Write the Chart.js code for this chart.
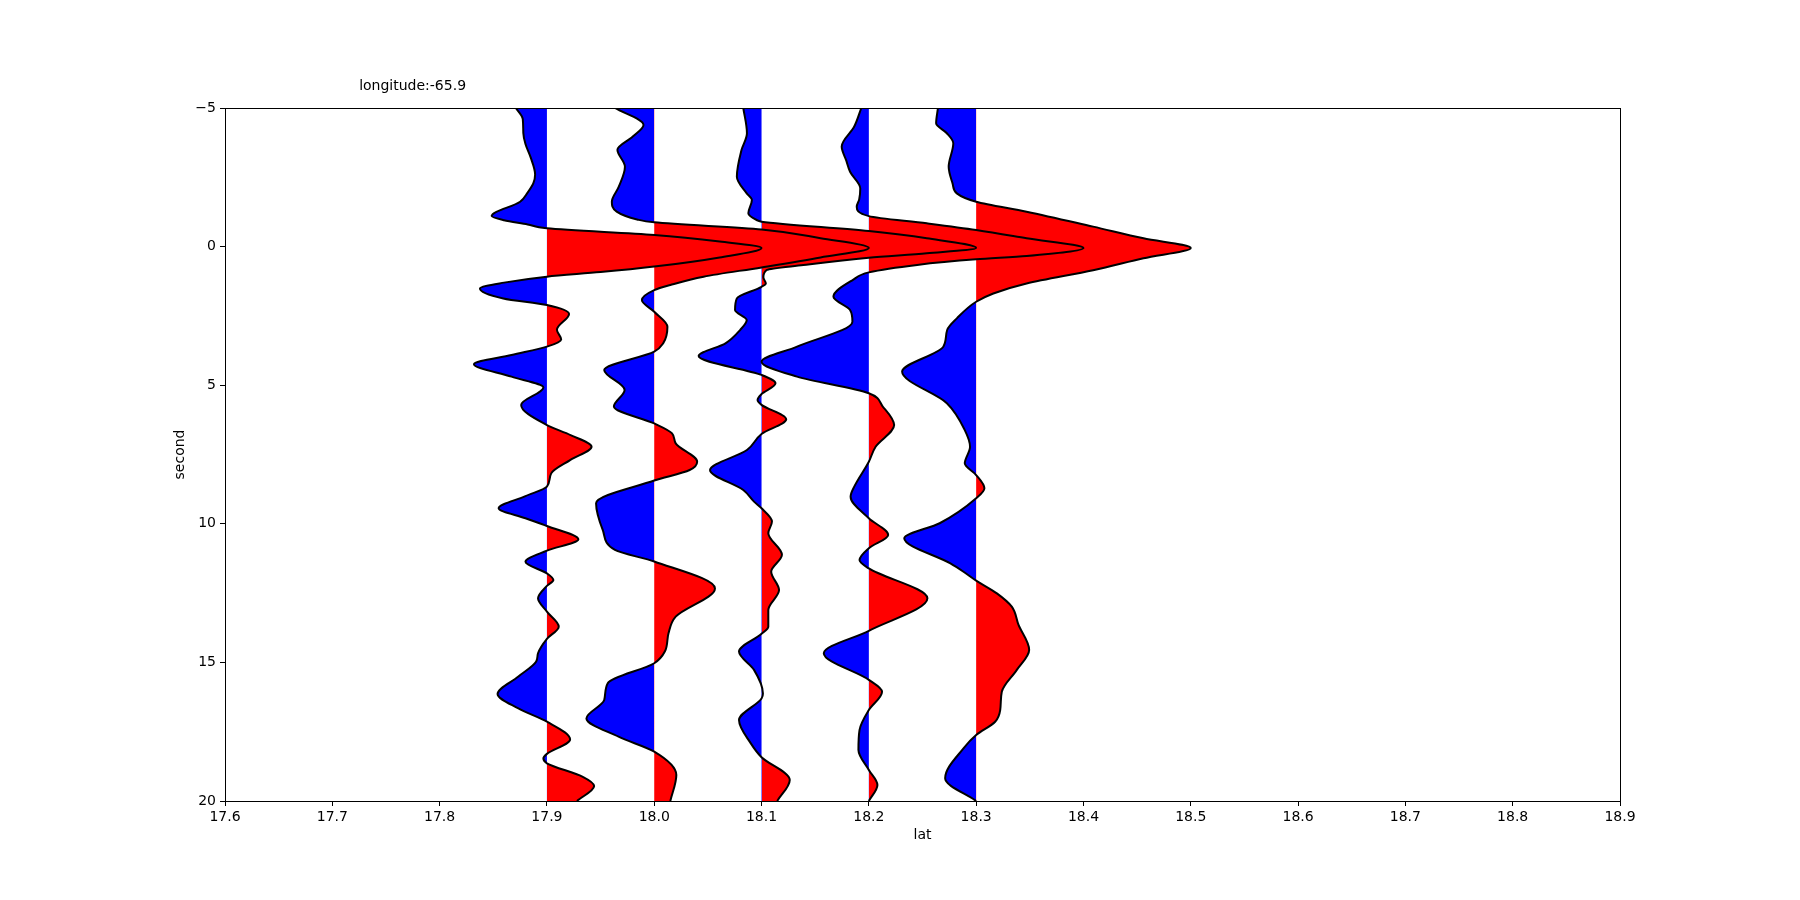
<!DOCTYPE html>
<html>
<head>
<meta charset="utf-8">
<script src="https://cdn.jsdelivr.net/npm/chart.js@4"></script>
<style>
  html, body { margin: 0; padding: 0; background: #fff; }
  #wrap { width: 1800px; height: 900px; }
</style>
</head>
<body>
<div id="wrap"><canvas id="myChart" width="1800" height="900"></canvas></div>
<script>
// station latitudes (trace baselines)
const lats = [17.9, 18.0, 18.1, 18.2, 18.3];
const xTicks = [17.6, 17.7, 17.8, 17.9, 18.0, 18.1, 18.2, 18.3, 18.4, 18.5, 18.6, 18.7, 18.8, 18.9];
const yTicks = [-5, 0, 5, 10, 15, 20];

// [second, amplitude in degrees]
const trace179 = [
    [-5, -0.029], [-4.6, -0.0225], [-4.1, -0.022], [-3.7, -0.020], [-3.2, -0.015], [-2.6, -0.011],
    [-2.28, -0.0127], [-1.95, -0.018], [-1.62, -0.025], [-1.1, -0.0515], [-0.95, -0.04], [-0.8, -0.018],
    [-0.66, 0], [-0.42, 0.10], [-0.18, 0.161], [0.05, 0.2], [0.39, 0.161], [0.72, 0.10], [0.92, 0.05],
    [1.085, 0], [1.3, -0.04], [1.51, -0.0624], [1.87, -0.0407], [2.11, 0], [2.43, 0.0206], [3.0, 0.0093],
    [3.35, 0.0133], [3.61, 0], [3.91, -0.033], [4.24, -0.068], [4.69, -0.033], [5.08, -0.0033],
    [5.71, -0.024], [6.44, 0], [6.8, 0.022], [7.22, 0.0416], [7.7, 0.0216], [8.18, 0.004], [8.66, 0],
    [9.0, -0.02], [9.44, -0.045], [9.8, -0.02], [10.08, 0], [10.56, 0.0293], [10.97, 0], [11.37, -0.020],
    [11.79, 0], [12.03, 0.006], [12.24, 0], [12.69, -0.0083], [13.17, 0], [13.71, 0.011], [14.15, 0],
    [14.67, -0.0083], [14.97, -0.010], [15.51, -0.0266], [16.14, -0.046], [16.66, -0.0266], [17.14, 0],
    [17.78, 0.0216], [18.3, 0], [18.46, -0.0033], [18.64, 0], [19.12, 0.033], [19.46, 0.044], [20, 0.028]
];
const trace180 = [
    [-5, -0.0366], [-4.39, -0.010], [-3.97, -0.020], [-3.49, -0.0343], [-2.88, -0.0273], [-2.16, -0.033],
    [-1.62, -0.0395], [-1.26, -0.035], [-0.98, -0.016], [-0.875, 0], [-0.62, 0.10], [-0.30, 0.155],
    [0.05, 0.2], [0.39, 0.155], [0.75, 0.10], [1.085, 0.046], [1.385, 0.015], [1.57, 0], [1.93, -0.0115],
    [2.35, 0], [2.89, 0.0123], [3.49, 0.0083], [3.79, 0], [4.45, -0.0466], [5.17, -0.0276], [5.77, -0.0376],
    [6.38, 0], [6.74, 0.0166], [7.1, 0.020], [7.76, 0.040], [8.06, 0.033], [8.44, 0], [9.26, -0.0542],
    [10.22, -0.048], [10.94, -0.0366], [11.36, 0], [12.33, 0.0566], [13.35, 0.020], [13.95, 0.0133],
    [14.6, 0.010], [15.03, 0], [15.75, -0.0433], [16.36, -0.0466], [17.02, -0.0632], [17.68, -0.0333],
    [18.22, 0], [19.06, 0.0206], [20, 0.015]
];
const trace181 = [
    [-5, -0.017], [-4.09, -0.0136], [-3.49, -0.0186], [-2.52, -0.023], [-1.92, -0.0138], [-1.68, -0.009],
    [-1.2, -0.0123], [-0.96, -0.0045], [-0.9, 0], [-0.56, 0.10], [-0.3, 0.154], [0.05, 0.2], [0.24, 0.154],
    [0.4, 0.10], [0.664, 0.039], [0.845, 0.0048], [1.11, 0.0017], [1.33, 0.004], [1.45, 0], [1.87, -0.023],
    [2.29, -0.0247], [2.65, -0.0138], [3.01, -0.020], [3.49, -0.0336], [3.95, -0.0586], [4.63, 0],
    [4.93, 0.013], [5.32, 0], [5.53, -0.0037], [5.71, 0], [6.23, 0.023], [6.76, 0], [7.34, -0.0136],
    [8.06, -0.048], [8.78, -0.017], [9.2, -0.007], [9.44, 0], [9.92, 0.0097], [10.34, 0.0063],
    [11.12, 0.019], [11.73, 0.009], [12.39, 0.0163], [13.11, 0.0063], [13.71, 0.0063], [13.97, 0],
    [14.61, -0.021], [15.27, -0.007], [16.12, 0.0013], [16.3, 0], [17.08, -0.021], [17.92, -0.010],
    [18.42, 0], [19.24, 0.0263], [20, 0.0146]
];
const trace182 = [
    [-5, -0.007], [-4.33, -0.0136], [-3.61, -0.0253], [-3.1, -0.021], [-2.7, -0.0175], [-2.1, -0.008],
    [-1.7, -0.009], [-1.44, -0.0113], [-1.1, 0], [-0.84, 0.054], [-0.6, 0.10], [-0.3, 0.147], [0.05, 0.2],
    [0.34, 0.147], [0.46, 0.10], [0.66, 0.045], [0.93, 0], [1.2, -0.0148], [1.81, -0.033], [2.29, -0.0175],
    [2.71, -0.0153], [3.61, -0.0669], [4.15, -0.100], [4.69, -0.0669], [5.29, 0], [5.77, 0.013],
    [6.44, 0.0236], [7.22, 0.0063], [7.76, 0], [8.66, -0.0136], [9.02, -0.017], [9.8, 0], [10.4, 0.018],
    [10.88, 0], [11.31, -0.0087], [11.61, 0], [12.69, 0.0546], [13.86, 0], [14.67, -0.042], [15.63, 0],
    [16.06, 0.0123], [16.72, 0], [17.44, -0.0087], [18.16, -0.0097], [18.88, 0], [19.42, 0.008], [20, 0]
];
const trace183 = [
    [-5, -0.0356], [-4.45, -0.0373], [-4.09, -0.0273], [-3.73, -0.0213], [-2.88, -0.0256], [-2.28, -0.022],
    [-1.92, -0.018], [-1.62, 0], [-1.26, 0.047], [-0.72, 0.109], [-0.3, 0.156], [0.05, 0.2], [0.42, 0.156],
    [0.85, 0.109], [1.33, 0.047], [1.69, 0.016], [1.99, 0], [2.59, -0.018], [3.01, -0.027], [3.61, -0.0306],
    [4.51, -0.069], [5.65, -0.0273], [6.62, -0.0106], [7.22, -0.0057], [7.82, -0.0106], [8.24, 0],
    [8.72, 0.0077], [9.08, 0], [9.98, -0.034], [10.52, -0.067], [11.43, -0.024], [11.73, -0.0118],
    [12.05, 0], [12.51, 0.0193], [12.99, 0.0332], [13.65, 0.0395], [14.55, 0.0494], [15.27, 0.0379],
    [16.06, 0.0239], [16.72, 0.0224], [17.14, 0.0177], [17.62, 0], [18.1, -0.0118], [19.18, -0.0289], [20, 0]
];
const traces = [trace179, trace180, trace181, trace182, trace183];

window.addEventListener('DOMContentLoaded', () => {
    Chart.defaults.font.family = 'DejaVu Sans';
    Chart.defaults.font.size = 14;
    Chart.defaults.color = '#000';

    // red right of the baseline, blue left of it
    function splitFill(context) {
        const chart = context.chart;
        const area = chart.chartArea;
        if (!area || !chart.scales.x) return 'red';
        const px = chart.scales.x.getPixelForValue(lats[context.datasetIndex]);
        const f = Math.min(1, Math.max(0, (px - area.left) / (area.right - area.left)));
        const g = chart.ctx.createLinearGradient(area.left, 0, area.right, 0);
        g.addColorStop(0, '#0000ff');
        g.addColorStop(f, '#0000ff');
        g.addColorStop(f, '#ff0000');
        g.addColorStop(1, '#ff0000');
        return g;
    }

    const datasets = traces.map((tr, i) => ({
        label: 'lat ' + lats[i],
        data: tr.map(p => ({ x: lats[i] + p[1], y: p[0] })),
        borderColor: '#000',
        borderWidth: 2,
        backgroundColor: splitFill,
        fill: { value: lats[i] },
        pointRadius: 0,
        cubicInterpolationMode: 'monotone'
    }));

    const frame = {
        id: 'frame',
        afterDraw(chart) {
            const { ctx, chartArea: a } = chart;
            ctx.save();
            ctx.strokeStyle = '#000';
            ctx.lineWidth = 1;
            ctx.strokeRect(a.left + 0.5, a.top + 0.5, a.right - a.left, a.bottom - a.top);
            ctx.fillStyle = '#000';
            ctx.font = '14px "DejaVu Sans"';
            ctx.textAlign = 'left';
            ctx.textBaseline = 'middle';
            ctx.fillText('longitude:-65.9', chart.scales.x.getPixelForValue(17.725), a.top - 22);
            ctx.restore();
        }
    };

    new Chart(document.getElementById('myChart'), {
        type: 'line',
        data: { datasets },
        options: {
            indexAxis: 'y',
            responsive: false,
            animation: false,
            layout: { padding: { left: 0, right: 180, top: 108, bottom: 0 } },
            plugins: {
                legend: { display: false },
                tooltip: { enabled: false },
                filler: { drawTime: 'beforeDatasetsDraw' }
            },
            scales: {
                x: {
                    type: 'linear',
                    min: 17.6,
                    max: 18.9,
                    afterBuildTicks: s => { s.ticks = xTicks.map(v => ({ value: v })); },
                    afterFit: s => { s.height = 99; },
                    ticks: { callback: v => v.toFixed(1), padding: 3, maxRotation: 0, autoSkip: false },
                    grid: { drawOnChartArea: false, drawTicks: true, tickLength: 5, tickColor: '#000' },
                    border: { color: '#000', width: 1 },
                    title: { display: true, text: 'lat', padding: { top: 0, bottom: 56 } }
                },
                y: {
                    type: 'linear',
                    reverse: true,
                    min: -5,
                    max: 20,
                    afterBuildTicks: s => { s.ticks = yTicks.map(v => ({ value: v })); },
                    afterFit: s => { s.width = 225; },
                    ticks: { callback: v => (v < 0 ? '\u2212' + Math.abs(v) : String(v)), padding: 4, autoSkip: false },
                    grid: { drawOnChartArea: false, drawTicks: true, tickLength: 5, tickColor: '#000' },
                    border: { color: '#000', width: 1 },
                    title: { display: true, text: 'second', padding: { top: 172, bottom: 0 } }
                }
            }
        },
        plugins: [frame]
    });
});
</script>
</body>
</html>
